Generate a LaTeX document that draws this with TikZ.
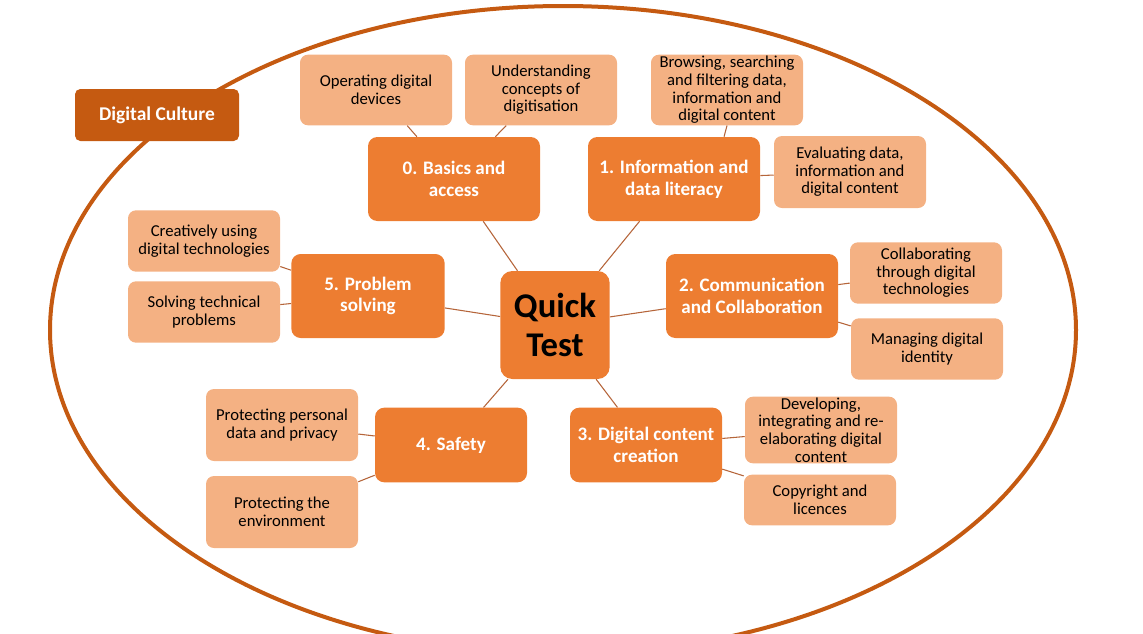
\documentclass[tikz,border=0pt]{standalone}
\usepackage{fontspec}
\setmainfont{Carlito}
\usetikzlibrary{calc}
\definecolor{mainorange}{HTML}{ED7D31}
\definecolor{lightorange}{HTML}{F4B183}
\definecolor{darkorange}{HTML}{C55A11}
\definecolor{linkbrown}{HTML}{B5653A}

\begin{document}
\begin{tikzpicture}[x=0.75pt, y=-0.75pt,
  every node/.style={align=center, inner sep=1pt},
  topicbox/.style={fill=mainorange, text=white, rounded corners=7pt,
                   font=\fontsize{14.3}{16.3}\selectfont\bfseries,
                   minimum width=129pt, minimum height=63pt},
  subbox/.style={fill=lightorange, text=black, rounded corners=6pt,
                 font=\fontsize{12.5}{13.2}\selectfont,
                 minimum width=114pt, minimum height=53pt},
  link/.style={draw=linkbrown, line width=0.8pt}]
  \useasboundingbox (0,0) rectangle (1143,633);
  \clip (0,0) rectangle (1143,633);
  % Outer ellipse
  \draw[darkorange, line width=3pt] (563,330) ellipse [x radius=384.75pt, y radius=243pt];
  \node[fill=darkorange, text=white, rounded corners=4pt,
        font=\fontsize{14.6}{16}\selectfont\bfseries,
        minimum width=123pt, minimum height=39pt] (culture) at (157,115) {Digital Culture};
  % Centre
  \node[fill=mainorange, rounded corners=9pt, text=black,
        font=\fontsize{26}{29.5}\selectfont\bfseries,
        minimum width=82pt, minimum height=81pt] (quick) at (555,325) {Quick\\Test};
  % Areas
  \node[topicbox] (basics)  at (454,179) {0. Basics and\\access};
  \node[topicbox] (info)    at (674,179) {1. Information and\\data literacy};
  \node[topicbox] (comm)    at (752,296) {2. Communication\\and Collaboration};
  \node[topicbox, minimum width=114pt, minimum height=56pt] (content) at (646,445) {3. Digital content\\creation};
  \node[topicbox, minimum width=114pt, minimum height=56pt] (safety)  at (451,445) {4. Safety};
  \node[topicbox, minimum width=115pt] (problem) at (368,296) {5. Problem\\solving};
  % Competences
  \node[subbox] (operating) at (376,90)  {Operating digital\\devices};
  \node[subbox] (concepts)  at (541,90)  {Understanding\\concepts of\\digitisation};
  \node[subbox, inner ysep=0pt] (browse) at (727,90) {Browsing, searching\\and filtering data,\\information and\\digital content};
  \node[subbox, minimum height=54pt] (evaluate) at (850,172) {Evaluating data,\\information and\\digital content};
  \node[subbox, minimum height=46pt] (collab)   at (926,273) {Collaborating\\through digital\\technologies};
  \node[subbox, minimum height=46pt] (identity) at (927,349) {Managing digital\\identity};
  \node[subbox, minimum height=50pt, inner ysep=0pt] (develop) at (821,430) {Developing,\\integrating and re-\\elaborating digital\\content};
  \node[subbox, minimum height=38pt] (copyright) at (820,500) {Copyright and\\licences};
  \node[subbox, minimum height=54pt] (personal) at (282,425) {Protecting personal\\data and privacy};
  \node[subbox, minimum height=54pt] (environ)  at (282,512) {Protecting the\\environment};
  \node[subbox, minimum height=46pt] (creative) at (204,241) {Creatively using\\digital technologies};
  \node[subbox, minimum height=46pt] (solving)  at (204,312) {Solving technical\\problems};
  % Links
  \foreach \area in {basics, info, comm, content, safety, problem}
    \draw[link] (quick) -- (\area);
  \draw[link] (basics) -- (operating);
  \draw[link] (basics) -- (concepts);
  \draw[link] (browse.south) -- ($(info.north)!0.58!(info.north east)$);
  \draw[link] (info) -- (evaluate);
  \draw[link] (comm) -- (collab);
  \draw[link] (comm) -- (identity);
  \draw[link] (content) -- (develop);
  \draw[link] (content) -- (copyright);
  \draw[link] (safety) -- (personal);
  \draw[link] (safety) -- (environ);
  \draw[link] (problem) -- (creative);
  \draw[link] (problem) -- (solving);
\end{tikzpicture}
\end{document}
